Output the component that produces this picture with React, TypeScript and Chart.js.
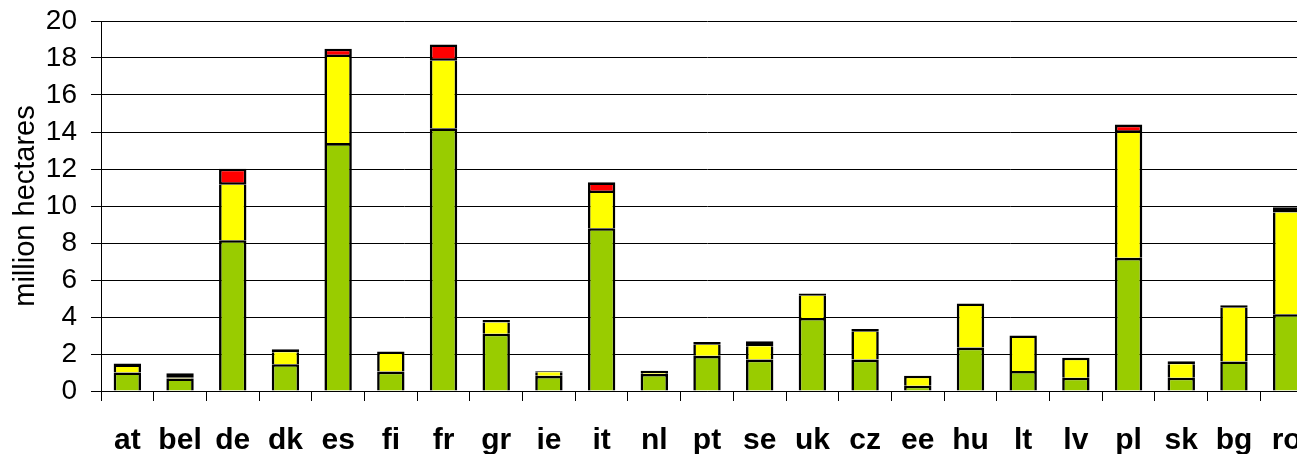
import React, { useEffect, useRef } from "react";
import { Chart, registerables } from "chart.js";

Chart.register(...registerables);

const categories = ["at", "bel", "de", "dk", "es", "fi", "fr", "gr", "ie", "it", "nl", "pt", "se", "uk", "cz", "ee", "hu", "lt", "lv", "pl", "sk", "bg", "ro"];
const greenValues = [1.0, 0.68, 8.15, 1.45, 13.4, 1.05, 14.2, 3.1, 0.82, 8.8, 0.92, 1.9, 1.7, 3.95, 1.7, 0.28, 2.35, 1.08, 0.72, 7.2, 0.72, 1.6, 4.15];
const yellowValues = [0.3, 0.03, 3.0, 0.65, 4.65, 0.95, 3.65, 0.6, 0.2, 1.9, 0.04, 0.6, 0.72, 1.2, 1.5, 0.55, 2.25, 1.92, 1.08, 6.75, 0.72, 2.9, 5.5];
const redValues = [0.19, 0.25, 0.87, 0.16, 0.45, 0.13, 0.88, 0.14, 0.05, 0.58, 0.13, 0.15, 0.27, 0.12, 0.15, 0.0, 0.13, 0.0, 0.0, 0.45, 0.17, 0.13, 0.28];
const yTicks = [0, 2, 4, 6, 8, 10, 12, 14, 16, 18, 20];
const yTitle = "million hectares";

const FONT = "'Liberation Sans', Arial, sans-serif";
const BW = 2.6;

export default function App() {
  const ref = useRef<HTMLCanvasElement | null>(null);
  useEffect(() => {
    if (!ref.current) return;
    const base = {
      borderColor: "#000000",
      barPercentage: 0.52,
      categoryPercentage: 1.0,
    };
    const chart = new Chart(ref.current, {
      type: "bar",
      data: {
        labels: categories,
        datasets: [
          { ...base, label: "green", data: greenValues, backgroundColor: "#99CC00", borderWidth: BW },
          {
            ...base,
            label: "yellow",
            data: yellowValues,
            backgroundColor: "#FFFF00",
            borderWidth: (ctx: any) => ({ top: redValues[ctx.dataIndex] > 0 ? 0 : BW, left: BW, right: BW, bottom: 0 }),
          },
          {
            ...base,
            label: "red",
            data: redValues,
            backgroundColor: "#FF0000",
            borderSkipped: false,
            borderWidth: BW,
          },
        ],
      },
      options: {
        animation: false,
        responsive: false,
        devicePixelRatio: 1,
        layout: { padding: { top: 21, right: 7, bottom: 0, left: 0 } },
        plugins: { legend: { display: false }, tooltip: { enabled: false } },
        scales: {
          x: {
            stacked: true,
            offset: true,
            afterFit: (s: any) => { s.height = 63; s.paddingLeft = 0; s.paddingRight = 0; },
            grid: { offset: true, drawOnChartArea: false, drawTicks: true, tickLength: 10, color: "#000000" },
            border: { display: true, color: "#000000", width: 1 },
            ticks: { color: "#000000", padding: 22, maxRotation: 0, autoSkip: false, font: { family: FONT, size: 30, weight: "bold" } },
          },
          y: {
            stacked: true,
            min: 0,
            max: 20,
            afterFit: (s: any) => { s.width = 101; s.paddingTop = 0; s.paddingBottom = 0; },
            afterBuildTicks: (s: any) => { s.ticks = yTicks.map((v) => ({ value: v })); },
            grid: { color: "#000000", tickLength: 10, drawTicks: true },
            border: { display: true, color: "#000000", width: 1 },
            ticks: { color: "#000000", padding: 14, autoSkip: false, font: { family: FONT, size: 28 } },
            title: { display: true, text: yTitle, color: "#000000", padding: { top: 9, bottom: 4 }, font: { family: FONT, size: 29 } },
          },
        },
      },
    });
    return () => chart.destroy();
  }, []);
  return (
    <div style={{ position: "fixed", left: 0, top: 0, width: "100vw", height: "100vh", overflow: "hidden", background: "#ffffff" }}>
      <canvas ref={ref} width={1320} height={454} style={{ display: "block", width: 1320, height: 454 }} />
    </div>
  );
}
